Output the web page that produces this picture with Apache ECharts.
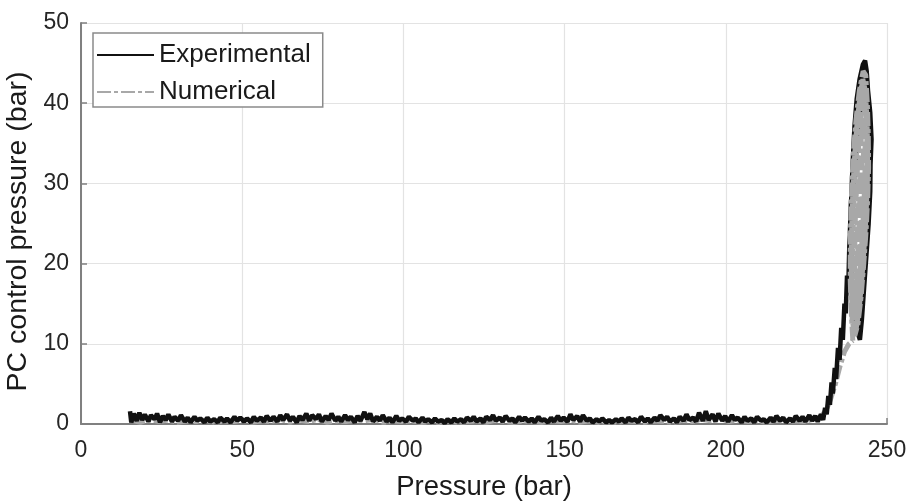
<!DOCTYPE html>
<html>
<head>
<meta charset="utf-8">
<script src="https://cdn.jsdelivr.net/npm/echarts@6/dist/echarts.min.js"></script>
<style>
  html, body { margin: 0; padding: 0; background: #fff; }
  #chart { width: 911px; height: 503px; }
</style>
</head>
<body>
<div id="chart"></div>
<script>
// Axis ticks
const xTicks = [0, 50, 100, 150, 200, 250];
const yTicks = [0, 10, 20, 30, 40, 50];

// Experimental trace: [pressure (bar), PC control pressure (bar)]
// Low-pressure plateau with measurement noise
const expFlat = [
  [15.2,1.6],[15.6,0.2],[16.4,1.3],[17.3,0.4],[18.1,1.4],[19.0,0.5],[19.8,1.2],[20.9,0.3],[21.7,1.1],[22.8,0.6],
  [23.6,1.3],[24.5,0.2],[25.4,1.0],[26.3,0.5],[27.1,1.2],[28.2,0.3],[29.0,0.9],[30.1,0.4],[31.0,1.1],[32.2,0.3],
  [33.1,0.8],[34.0,0.2],[35.2,0.9],[36.1,0.4],[37.0,0.7],[38.3,0.2],[39.2,0.8],[40.1,0.3],[41.3,0.6],[42.4,0.2],
  [43.2,0.8],[44.5,0.3],[45.3,0.7],[46.4,0.2],[47.6,0.9],[48.5,0.4],[49.4,0.8],[50.6,0.3],[51.5,0.7],[52.7,0.2],
  [53.6,0.9],[54.5,0.4],[55.8,0.8],[56.7,0.3],[57.6,1.0],[58.8,0.4],[59.7,0.9],[60.9,0.3],[61.8,1.1],[62.7,0.5],
  [63.9,1.2],[64.8,0.4],[65.7,0.9],[66.9,0.2],[67.8,1.0],[68.7,0.5],[69.9,1.3],[70.8,0.4],[71.7,1.1],[72.9,0.6],
  [73.8,1.2],[74.7,0.3],[75.9,1.0],[76.8,0.5],[77.7,1.3],[78.9,0.4],[79.8,0.9],[80.7,0.3],[81.9,1.1],[82.8,0.5],
  [83.7,0.9],[84.9,0.2],[85.8,1.0],[86.7,0.4],[87.9,1.5],[88.8,0.6],[89.7,1.3],[90.6,0.3],[91.8,0.9],[92.7,0.4],
  [93.6,1.1],[94.8,0.3],[95.7,0.8],[96.6,0.2],[97.8,1.0],[98.7,0.4],[99.6,0.7],[100.8,0.3],[101.7,0.9],[102.9,0.4],
  [103.8,0.7],[104.7,0.2],[105.9,0.8],[106.8,0.3],[107.7,0.6],[108.9,0.2],[109.8,0.7],[110.7,0.3],[111.9,0.5],[112.8,0.1],
  [113.7,0.6],[114.9,0.2],[115.8,0.7],[116.7,0.3],[117.9,0.6],[118.8,0.2],[119.7,0.8],[120.9,0.4],[121.8,0.9],[122.7,0.3],
  [123.9,0.7],[124.8,0.2],[125.7,0.9],[126.9,0.5],[127.8,1.1],[128.7,0.4],[129.9,0.8],[130.8,0.3],[131.7,1.0],[132.9,0.4],
  [133.8,0.7],[134.7,0.2],[135.9,0.9],[136.8,0.4],[137.7,0.8],[138.9,0.3],[139.8,0.7],[140.7,0.2],[141.9,0.9],[142.8,0.4],
  [143.7,0.6],[144.9,0.2],[145.8,0.8],[146.7,0.3],[147.9,1.0],[148.8,0.4],[149.7,0.8],[150.9,0.3],[151.8,1.2],[152.7,0.5],
  [153.9,1.0],[154.8,0.3],[155.7,1.1],[156.9,0.4],[157.8,0.7],[158.7,0.2],[159.9,0.6],[160.8,0.3],[161.7,0.7],[162.9,0.2],
  [163.8,0.5],[164.7,0.2],[165.9,0.6],[166.8,0.3],[167.7,0.7],[168.9,0.2],[169.8,0.8],[170.7,0.4],[171.9,0.6],[172.8,0.2],
  [173.7,0.9],[174.9,0.3],[175.8,0.7],[176.7,0.2],[177.9,0.8],[178.8,0.4],[179.7,1.1],[180.9,0.5],[181.8,0.9],[182.7,0.3],
  [183.9,0.7],[184.8,0.2],[185.7,0.9],[186.9,0.4],[187.8,1.2],[188.7,0.5],[189.9,0.8],[190.8,0.3],[191.7,1.4],[192.9,0.4],
  [193.8,1.6],[194.7,0.5],[195.9,1.2],[196.8,0.3],[197.7,1.3],[198.9,0.4],[199.8,1.0],[200.7,0.3],[201.9,1.1],[202.8,0.5],
  [203.7,0.8],[204.9,0.2],[205.8,0.9],[206.7,0.4],[207.9,0.7],[208.8,0.2],[209.7,0.9],[210.9,0.4],[211.8,0.6],[212.7,0.2],
  [213.9,0.8],[214.8,0.3],[215.7,1.0],[216.9,0.4],[217.8,0.8],[218.7,0.2],[219.9,0.7],[220.8,0.3],[221.7,1.0],[222.9,0.4],
  [223.8,0.9],[224.7,0.3],[225.9,1.1],[226.8,0.4],[227.7,1.0]
];
// Pressure build-up towards the cracking point
const expRise = [
  [228.5,0.3],[229.5,1.2],[230.2,0.5],[230.8,2.0],[231.3,1.2],[231.8,3.5],[232.3,2.4],[232.8,5.2],[233.2,3.8],[233.8,7.0],
  [234.2,5.6],[234.8,9.5],[235.3,8.0],[235.8,12.0],[236.3,10.5],[236.8,15.0],[237.2,13.8],[237.6,18.5],[238.0,17.0],[238.3,22.0]
];
// Oscillation cycles at high pressure
const expLoop = [
  [238.7,25.0],[239.0,29.0],[239.4,33.0],[239.9,37.0],[240.6,40.5],[241.5,43.0],[242.5,44.8],[243.2,45.3],[243.7,44.0],[244.2,41.0],
  [244.6,37.0],[244.9,33.0],[244.8,29.0],[244.3,25.0],[243.6,21.0],[242.9,17.0],[242.2,13.0],[241.6,10.5],
  [240.0,12.5],[239.6,15.0],[239.0,18.0],[238.6,21.0],[238.5,24.0],[238.8,27.5],[239.5,31.5],[240.3,35.5],[241.2,39.0],[242.2,42.0],
  [243.0,44.5],[243.6,43.5],[244.3,40.0],[244.7,36.5],[244.6,32.5],[244.0,28.5],[243.3,25.0],[242.8,21.5],[242.3,18.0],[241.7,15.0],
  [241.0,12.5],[240.4,11.2],
  [240.0,13.0],[239.3,16.0],[238.9,19.5],[238.9,23.0],[239.3,27.0],[239.9,31.0],[240.7,35.0],[241.6,38.5],[242.6,41.5],[243.4,43.8],
  [244.0,42.0],[244.8,38.8],[245.2,35.5],[244.8,31.5],[244.1,27.5],[243.4,24.0],[242.9,20.5],[242.5,17.5],[242.0,14.5],[241.4,12.2]
];

// Numerical trace: plateau and build-up
const numFlat = [
  [15.5,0.5],[18.4,0.2],[21.3,0.6],[24.2,0.3],[27.1,0.5],[30.0,0.2],[32.9,0.4],[35.8,0.3],[38.7,0.5],[41.6,0.2],
  [44.5,0.4],[47.4,0.3],[50.3,0.5],[53.2,0.2],[56.1,0.4],[59.0,0.3],[61.9,0.6],[64.8,0.2],[67.7,0.5],[70.6,0.3],
  [73.5,0.6],[76.4,0.2],[79.3,0.4],[82.2,0.3],[85.1,0.5],[88.0,0.4],[90.9,0.6],[93.8,0.2],[96.7,0.4],[99.6,0.3],
  [102.5,0.4],[105.4,0.2],[108.3,0.3],[111.2,0.2],[114.1,0.4],[117.0,0.2],[119.9,0.3],[122.8,0.4],[125.7,0.2],[128.6,0.5],
  [131.5,0.3],[134.4,0.2],[137.3,0.4],[140.2,0.3],[143.1,0.2],[146.0,0.4],[148.9,0.3],[151.8,0.5],[154.7,0.2],[157.6,0.4],
  [160.5,0.2],[163.4,0.3],[166.3,0.2],[169.2,0.4],[172.1,0.3],[175.0,0.2],[177.9,0.4],[180.8,0.3],[183.7,0.2],[186.6,0.5],
  [189.5,0.3],[192.4,0.6],[195.3,0.4],[198.2,0.7],[201.1,0.3],[204.0,0.5],[206.9,0.3],[209.8,0.4],[212.7,0.2],[215.6,0.5],
  [218.5,0.3],[221.4,0.4],[224.3,0.3],[227.2,0.6],[229.5,0.9],[231.2,1.8],[232.6,3.2],[234.0,5.0],[235.4,7.2],[236.8,9.0],
  [238.2,10.0],[239.4,10.4]
];
// Numerical oscillation cycles
const numLoop = [
  [239.4,10.4],[238.9,14.0],[238.6,18.0],[238.6,22.0],[238.8,26.0],[239.1,30.0],[239.6,34.0],[240.4,38.0],[241.4,41.5],[242.6,44.0],
  [243.4,43.5],[243.9,40.0],[244.2,36.0],[244.3,32.0],[244.0,28.0],[243.5,24.0],[242.8,20.0],[242.0,16.0],[241.0,12.5],[240.0,11.0],
  [239.2,13.0],[239.0,17.0],[238.9,21.0],[239.1,25.0],[239.4,29.0],[239.9,33.0],[240.6,37.0],[241.5,40.5],[242.5,43.0],
  [243.3,41.5],[243.8,38.0],[244.0,34.0],[243.9,30.0],[243.5,26.0],[242.9,22.0],[242.2,18.0],[241.4,14.5],[240.5,12.0],
  [239.8,12.0],[239.5,16.0],[239.4,20.0],[239.5,24.0],[239.8,28.0],[240.3,32.0],[240.9,36.0],[241.7,39.5],[242.6,42.5],
  [243.2,42.0],[243.6,38.5],[243.8,34.5],[243.7,30.5],[243.3,26.5],[242.7,22.5],[242.0,18.5],[241.2,15.0],[240.4,12.5],
  [240.1,14.0],[240.0,18.0],[240.0,22.0],[240.2,26.0],[240.6,30.0],[241.1,34.0],[241.8,37.5],[242.5,40.5],
  [243.0,39.5],[243.2,36.0],[243.2,32.0],[242.9,28.0],[242.4,24.0],[241.8,20.0],[241.2,16.5],[240.6,14.0],
  [240.6,16.0],[240.6,20.0],[240.8,24.0],[241.1,28.0],[241.5,32.0],[242.0,35.5],[242.5,37.5],
  [242.7,34.0],[242.6,30.0],[242.2,26.0],[241.7,22.0],[241.2,18.0],[240.8,15.5],
  [241.0,20.0],[241.3,25.0],[241.7,30.0],[242.1,33.0],[242.2,29.0],[241.8,24.0],[241.4,20.0]
];

const FONT = '"Liberation Sans", Arial, Helvetica, sans-serif';
const GRAY = '#a8a8a8';
const numStyle = { color: GRAY, width: 5, type: [14, 3, 4, 3] };

const chart = echarts.init(document.getElementById('chart'), null, { renderer: 'canvas' });
chart.setOption({
  animation: false,
  backgroundColor: '#ffffff',
  grid: { left: 81, right: 24, top: 23, bottom: 79, containLabel: false, outerBoundsMode: 'none' },
  legend: {
    data: ['Experimental', 'Numerical'],
    orient: 'vertical',
    left: 93,
    top: 33,
    padding: [8, 12, 1, 3],
    itemGap: 9,
    itemWidth: 57,
    itemHeight: 14,
    backgroundColor: '#ffffff',
    borderColor: '#8a8a8a',
    borderWidth: 1.5,
    borderRadius: 0,
    // line sample only, no marker on it
    itemStyle: { opacity: 0 },
    textStyle: { fontFamily: FONT, fontSize: 26, lineHeight: 28, color: '#1a1a1a' }
  },
  xAxis: {
    type: 'value',
    min: xTicks[0],
    max: xTicks[xTicks.length - 1],
    interval: 50,
    name: 'Pressure (bar)',
    nameLocation: 'middle',
    nameGap: 49,
    nameTextStyle: { fontFamily: FONT, fontSize: 27.5, color: '#1a1a1a' },
    axisLine: { show: true, onZero: false, lineStyle: { color: '#808080', width: 2 } },
    axisTick: { show: true, inside: true, length: 6, lineStyle: { color: '#808080', width: 1.5 } },
    axisLabel: { fontFamily: FONT, fontSize: 23, color: '#262626', margin: 15 },
    splitLine: { show: true, lineStyle: { color: '#e3e3e3', width: 1.2 } }
  },
  yAxis: {
    type: 'value',
    min: yTicks[0],
    max: yTicks[yTicks.length - 1],
    interval: 10,
    name: 'PC control pressure (bar)',
    nameLocation: 'middle',
    nameGap: 43,
    nameTextStyle: { fontFamily: FONT, fontSize: 28.5, color: '#1a1a1a', padding: [0, 16, 0, 0] },
    axisLine: { show: true, onZero: false, lineStyle: { color: '#808080', width: 2 } },
    axisTick: { show: true, inside: true, length: 6, lineStyle: { color: '#808080', width: 1.5 } },
    axisLabel: { fontFamily: FONT, fontSize: 23, color: '#262626', margin: 12 },
    splitLine: { show: true, lineStyle: { color: '#e3e3e3', width: 1.2 } }
  },
  series: [
    {
      name: 'Numerical',
      type: 'line',
      z: 1,
      showSymbol: false,
      symbol: 'none',
      data: numFlat,
      lineStyle: numStyle,
      itemStyle: { color: GRAY }
    },
    {
      name: 'Experimental',
      type: 'line',
      z: 2,
      showSymbol: false,
      symbol: 'none',
      data: expFlat.concat(expRise, expLoop),
      lineStyle: { color: '#111111', width: 4.5 },
      itemStyle: { color: '#111111' }
    },
    {
      name: 'Numerical',
      type: 'line',
      z: 3,
      showSymbol: false,
      symbol: 'none',
      data: numLoop,
      lineStyle: numStyle,
      itemStyle: { color: GRAY }
    }
  ]
});
</script>
</body>
</html>
